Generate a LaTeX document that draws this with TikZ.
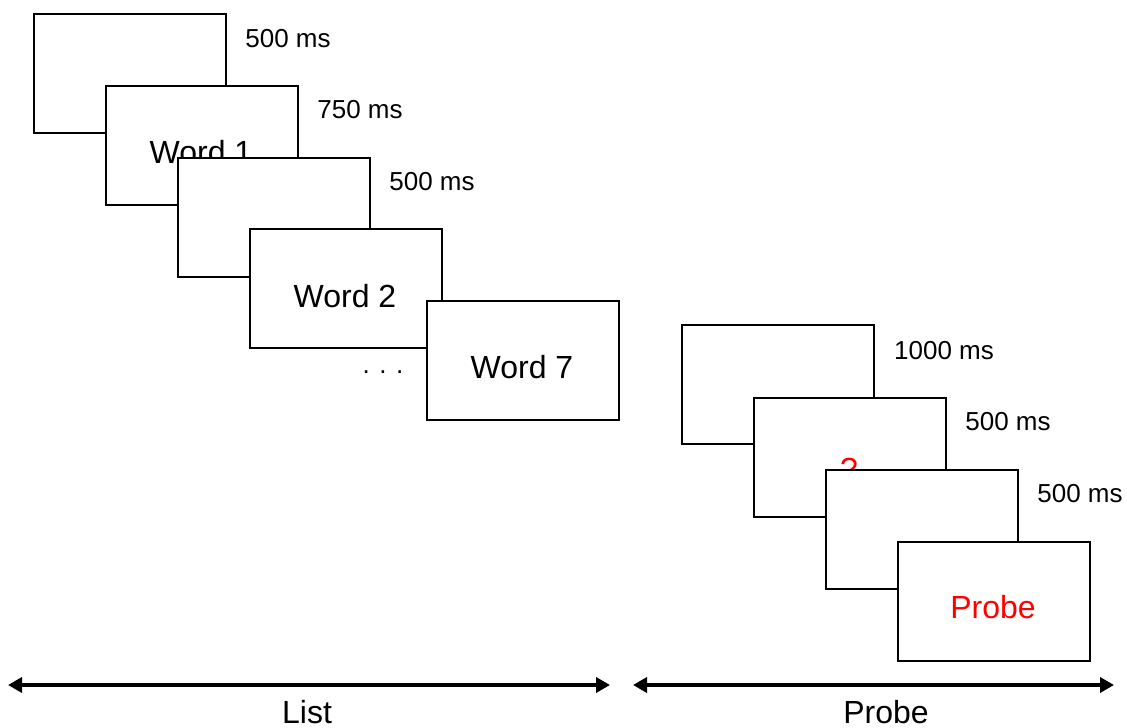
\documentclass[tikz,border=0pt]{standalone}
\usepackage{fontspec}
\setmainfont{Liberation Sans}
\usetikzlibrary{arrows.meta}
\begin{document}
\begin{tikzpicture}[x=1pt,y=-1pt,
  scr/.style={draw=black,fill=white,line width=1.6pt,minimum width=192pt,minimum height=119pt,inner sep=0pt,anchor=north west},
  dur/.style={font=\fontsize{26}{30}\selectfont,anchor=center},
  wrd/.style={font=\fontsize{32}{36}\selectfont,anchor=center},
  lab/.style={font=\fontsize{32}{36}\selectfont,anchor=center},
  tl/.style={line width=3.6pt,{Triangle[length=14pt,width=15pt]}-{Triangle[length=14pt,width=15pt]}}]
\useasboundingbox (0,0) rectangle (1127,728);
% List screens
\node[scr] (b1) at (33,13) {};
\node[dur] (d1) at (288,39) {500 ms};
\node[scr] (b2) at (105,85) {};
\node[dur] (d2) at (360,110) {750 ms};
\node[wrd] (w1) at (201,152) {Word 1};
\node[scr] (b3) at (177,157) {};
\node[dur] (d3) at (432,182) {500 ms};
\node[scr] (b4) at (249,228) {};
\node[wrd] (w2) at (345,296) {Word 2};
\node[font=\fontsize{26}{30}\selectfont,anchor=base] (dots) at (383,373) {. . .};
\node[scr] (b5) at (426,300) {};
\node[wrd] (w7) at (522,367) {Word 7};
% Probe screens
\node[scr] (p1) at (681,324) {};
\node[dur] (d4) at (944,351) {1000 ms};
\node[scr] (p2) at (753,397) {};
\node[dur] (d5) at (1008,422) {500 ms};
\node[wrd,text=red] (q) at (849,469) {?};
\node[scr] (p3) at (825,469) {};
\node[dur] (d6) at (1080,494) {500 ms};
\node[scr] (p4) at (897,541) {};
\node[wrd,text=red] (pr) at (993,607) {Probe};
% timelines
\coordinate (la) at (8,685);
\coordinate (lb) at (610,685);
\coordinate (pa) at (633,685);
\coordinate (pb) at (1114,685);
\draw[tl] (la) -- (lb);
\draw[tl] (pa) -- (pb);
\node[lab] (list) at (307,712) {List};
\node[lab] (probe) at (886,712) {Probe};
\end{tikzpicture}
\end{document}
